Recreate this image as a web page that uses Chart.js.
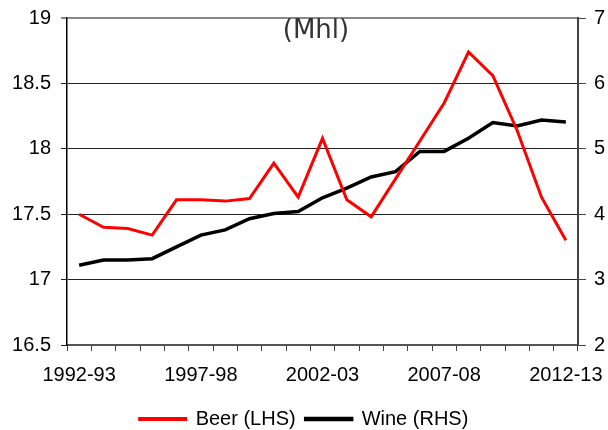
<!DOCTYPE html>
<html>
<head>
<meta charset="utf-8">
<script src="https://cdn.jsdelivr.net/npm/chart.js@4"></script>
<style>
  html, body { margin: 0; padding: 0; background: #fff; }
  #wrap { width: 608px; height: 430px; }
</style>
</head>
<body>
<div id="wrap"><canvas id="canvas"></canvas></div>
<script>
// data
const years = ['1992-93','1993-94','1994-95','1995-96','1996-97','1997-98','1998-99','1999-00','2000-01','2001-02',
  '2002-03','2003-04','2004-05','2005-06','2006-07','2007-08','2008-09','2009-10','2010-11','2011-12','2012-13'];
const beer = [17.50, 17.40, 17.39, 17.34, 17.61, 17.61, 17.60, 17.62, 17.89, 17.63,
  18.08, 17.61, 17.48, 17.77, 18.06, 18.35, 18.74, 18.56, 18.14, 17.63, 17.30];
const wine = [3.22, 3.30, 3.30, 3.32, 3.50, 3.68, 3.76, 3.93, 4.01, 4.04,
  4.25, 4.40, 4.57, 4.65, 4.96, 4.96, 5.16, 5.40, 5.35, 5.44, 5.41];
const subTitle = '(Mhl)';

/* texte sus in grafic */
const unitLabel = {
    id: 'unitLabel',
    afterDraw(chart) {
        const c = chart.ctx;
        c.save();
        c.font = '26px "DejaVu Sans", sans-serif';
        c.fillStyle = '#333';
        c.textAlign = 'center';
        c.textBaseline = 'middle';
        c.fillText(subTitle, 316, 31);
        c.restore();
    }
};

const fontTick = { family: '"Liberation Sans", Arial, sans-serif', size: 20 };

const ctx = document.getElementById('canvas');
new Chart(ctx, {
    type: 'line',
    data: {
        labels: years,
        datasets: [{
            label: 'Beer (LHS)',
            data: beer,
            yAxisID: 'y',
            borderColor: '#ff0000',
            backgroundColor: '#ff0000',
            borderWidth: 3,
            pointRadius: 0,
            tension: 0
        },
        {
            label: 'Wine (RHS)',
            data: wine,
            yAxisID: 'y1',
            borderColor: '#000000',
            backgroundColor: '#000000',
            borderWidth: 3.5,
            pointRadius: 0,
            tension: 0
        }]
    },
    options: {
        responsive: true,
        maintainAspectRatio: false,
        animation: false,
        layout: { padding: { top: 18, left: 0, right: 0, bottom: -9 } },
        plugins: {
            legend: {
                position: 'bottom',
                labels: {
                    color: '#000',
                    font: fontTick,
                    boxWidth: 46,
                    boxHeight: 1,
                    padding: 10
                }
            },
            tooltip: { enabled: false }
        },
        scales: {
            x: {
                offset: true,
                grid: {
                    display: true,
                    drawOnChartArea: false,
                    drawTicks: true,
                    tickLength: 6,
                    offset: true,
                    color: '#444'
                },
                border: { color: '#555', width: 2 },
                ticks: {
                    color: '#000',
                    font: fontTick,
                    autoSkip: false,
                    maxRotation: 0,
                    padding: 12,
                    callback: function(v, i) { return i % 5 === 0 ? years[i] : ''; }
                },
                afterFit: function(s) {
                    s.height = 54;
                    s.paddingLeft = 0;
                    s.paddingRight = 0;
                }
            },
            y: {
                position: 'left',
                min: 16.5,
                max: 19,
                grid: {
                    tickLength: 6,
                    color: function(c) { return c.tick && c.tick.value === 19 ? '#888' : '#222'; },
                    lineWidth: function(c) { return c.tick && c.tick.value === 19 ? 2 : 1; }
                },
                border: { color: '#000', width: 1.5 },
                ticks: {
                    stepSize: 0.5,
                    color: '#000',
                    font: fontTick,
                    padding: 10,
                    callback: function(v) { return String(Math.round(v * 10) / 10); }
                },
                afterFit: function(s) {
                    s.width = 67;
                    s.paddingTop = 0;
                    s.paddingBottom = 0;
                }
            },
            y1: {
                position: 'right',
                min: 2,
                max: 7,
                grid: {
                    drawOnChartArea: false,
                    tickLength: 8,
                    color: '#444'
                },
                border: { color: '#444', width: 2 },
                ticks: {
                    stepSize: 1,
                    color: '#000',
                    font: fontTick,
                    padding: 8
                },
                afterFit: function(s) {
                    s.width = 30;
                    s.paddingTop = 0;
                    s.paddingBottom = 0;
                }
            }
        }
    },
    plugins: [unitLabel]
});
</script>
</body>
</html>
